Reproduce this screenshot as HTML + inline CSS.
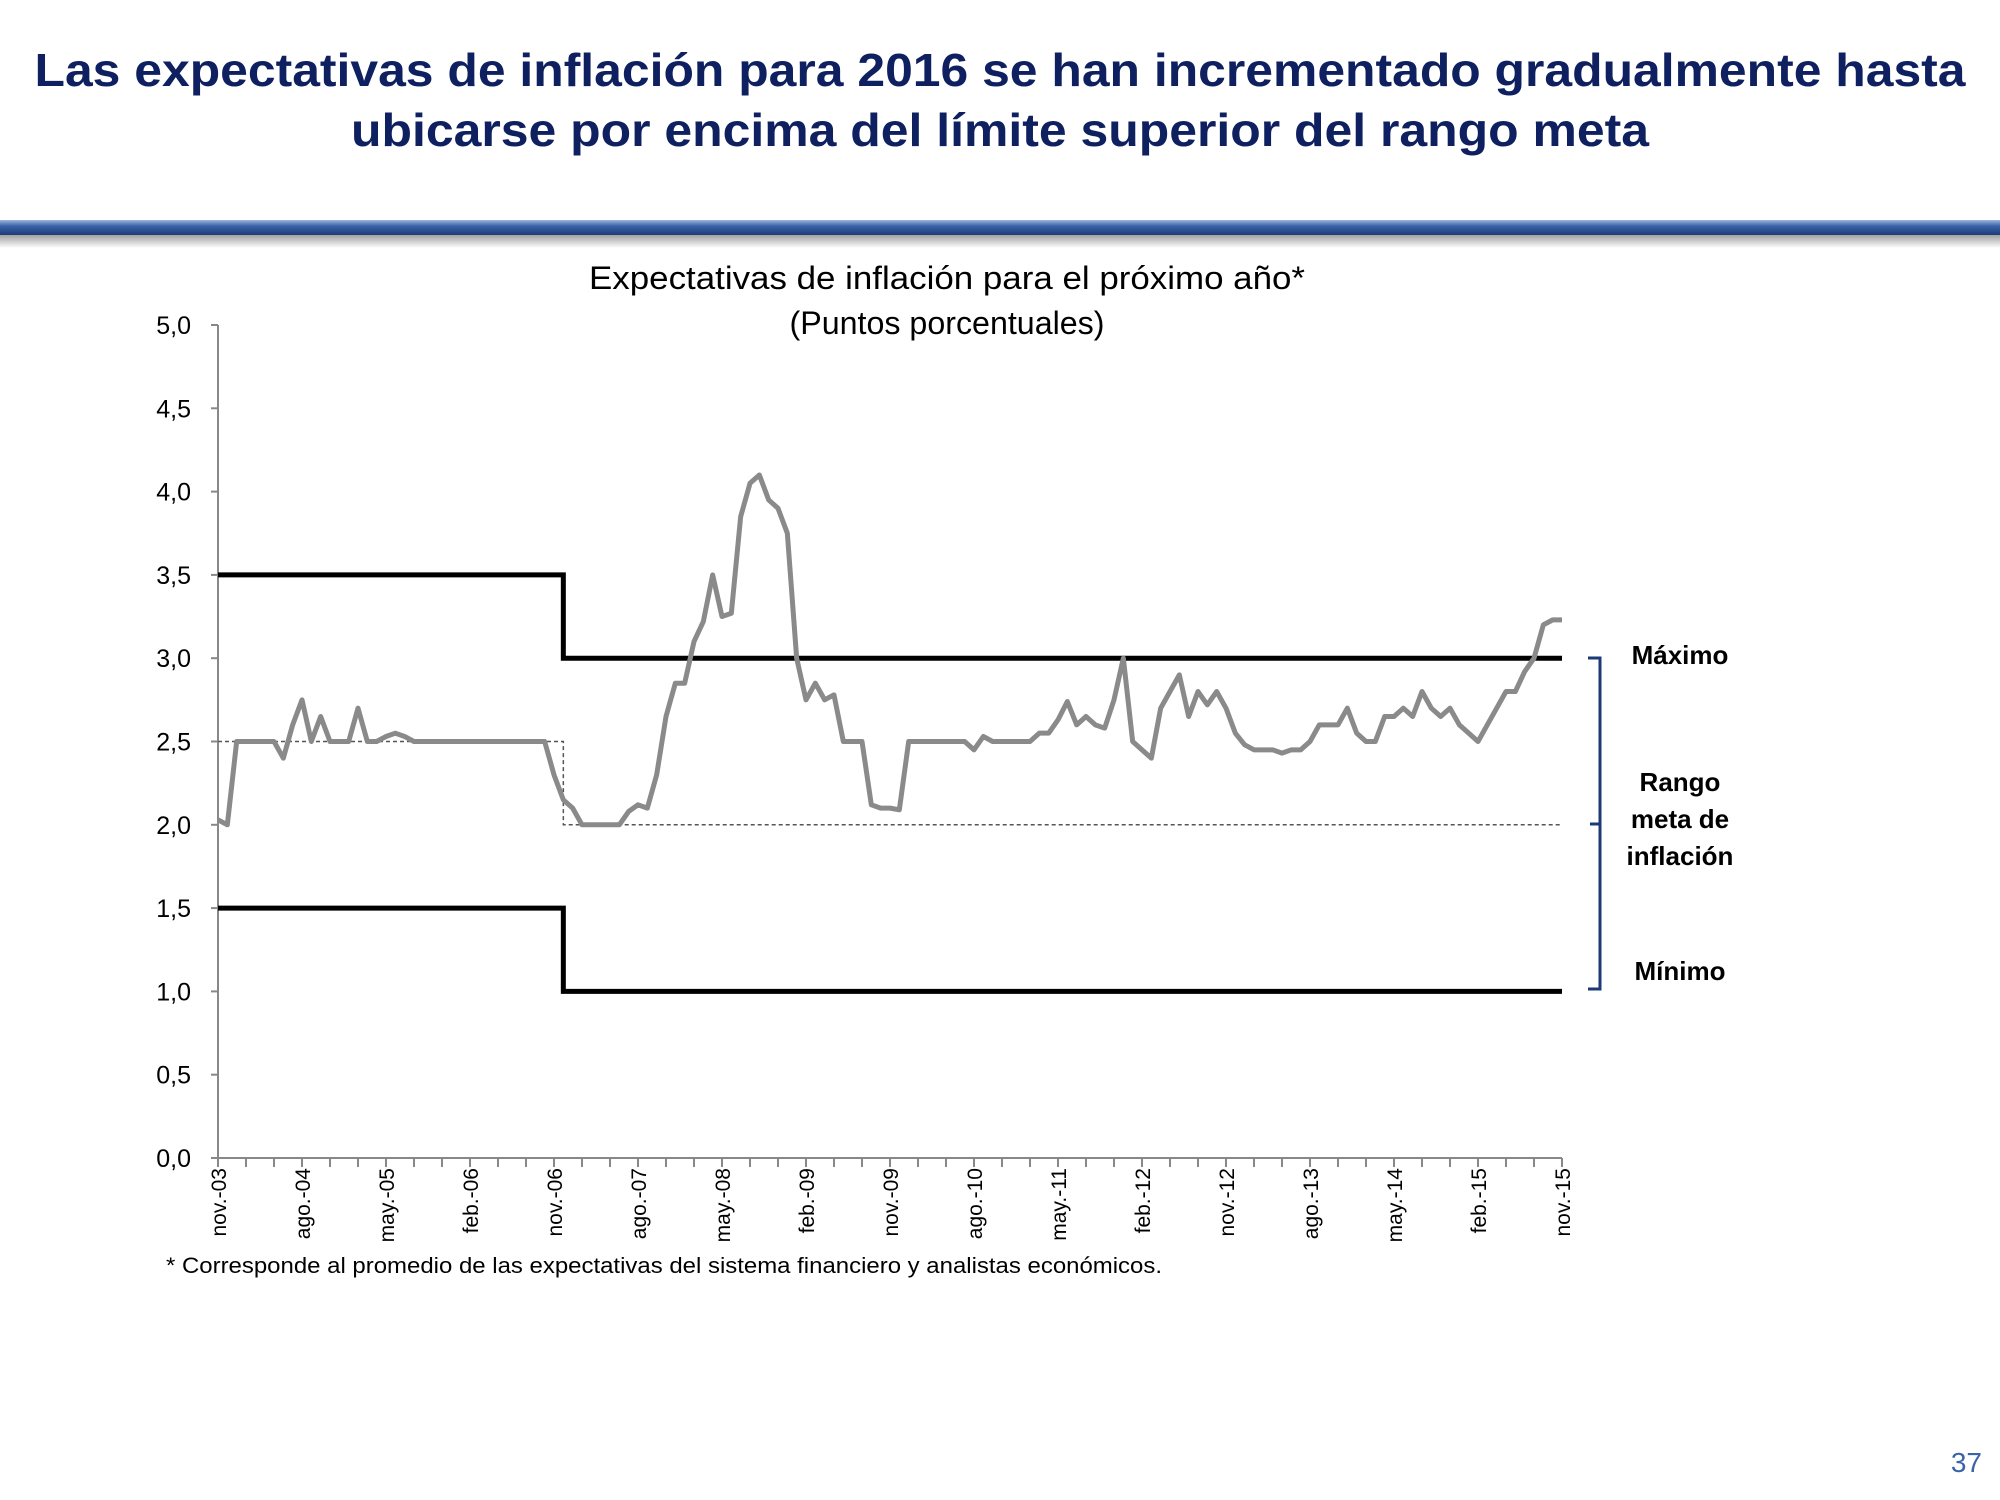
<!DOCTYPE html>
<html><head><meta charset="utf-8"><style>
body{margin:0;background:#fff}
svg{display:block;font-family:"Liberation Sans",sans-serif}
</style></head><body>
<svg width="2000" height="1500" viewBox="0 0 2000 1500">
<defs><linearGradient id="bar" x1="0" y1="0" x2="0" y2="1">
<stop offset="0" stop-color="#9fb6dc"/><stop offset="0.4" stop-color="#3a63a8"/><stop offset="1" stop-color="#1c3a78"/></linearGradient>
<linearGradient id="sh" x1="0" y1="0" x2="0" y2="1"><stop offset="0" stop-color="#999"/><stop offset="1" stop-color="#fff"/></linearGradient></defs>
<g fill="#0f2060" font-weight="bold" font-size="46" text-anchor="middle">
<text x="1000" y="86" textLength="1931" lengthAdjust="spacingAndGlyphs">Las expectativas de inflación para 2016 se han incrementado gradualmente hasta</text>
<text x="1000" y="146" textLength="1298" lengthAdjust="spacingAndGlyphs">ubicarse por encima del límite superior del rango meta</text>
</g>
<rect x="0" y="234" width="2000" height="14" fill="url(#sh)"/>
<rect x="0" y="220" width="2000" height="15" fill="url(#bar)"/>
<text x="947" y="289" font-size="32" text-anchor="middle" textLength="716" lengthAdjust="spacingAndGlyphs">Expectativas de inflación para el próximo año*</text>
<text x="947" y="334" font-size="32" text-anchor="middle" textLength="315" lengthAdjust="spacingAndGlyphs">(Puntos porcentuales)</text>
<g id="chart"></g>
<g font-size="26" font-weight="bold" text-anchor="middle">
<text x="1680" y="664">Máximo</text>
<text x="1680" y="791">Rango</text>
<text x="1680" y="828">meta de</text>
<text x="1680" y="865">inflación</text>
<text x="1680" y="980">Mínimo</text>
</g>
<path d="M1588 658 H1600 V989 H1588 M1600 824 H1590" fill="none" stroke="#1c3a78" stroke-width="3"/>
<text x="166" y="1273" font-size="22" textLength="996" lengthAdjust="spacingAndGlyphs">* Corresponde al promedio de las expectativas del sistema financiero y analistas económicos.</text>
<text x="1982" y="1472" font-size="28" fill="#3a63a8" text-anchor="end">37</text>
</svg>
<script>
const yTicks=["0,0","0,5","1,0","1,5","2,0","2,5","3,0","3,5","4,0","4,5","5,0"];
const yTickValues=[0,0.5,1,1.5,2,2.5,3,3.5,4,4.5,5];
const xLabels=["nov.-03","ago.-04","may.-05","feb.-06","nov.-06","ago.-07","may.-08","feb.-09","nov.-09","ago.-10","may.-11","feb.-12","nov.-12","ago.-13","may.-14","feb.-15","nov.-15"];
const expectations=[2.03,2.0,2.5,2.5,2.5,2.5,2.5,2.4,2.6,2.75,2.5,2.65,2.5,2.5,2.5,2.7,2.5,2.5,2.53,2.55,2.53,2.5,2.5,2.5,2.5,2.5,2.5,2.5,2.5,2.5,2.5,2.5,2.5,2.5,2.5,2.5,2.3,2.15,2.1,2.0,2.0,2.0,2.0,2.0,2.08,2.12,2.1,2.3,2.65,2.85,2.85,3.1,3.22,3.5,3.25,3.27,3.85,4.05,4.1,3.95,3.9,3.75,3.0,2.75,2.85,2.75,2.78,2.5,2.5,2.5,2.12,2.1,2.1,2.09,2.5,2.5,2.5,2.5,2.5,2.5,2.5,2.45,2.53,2.5,2.5,2.5,2.5,2.5,2.55,2.55,2.63,2.74,2.6,2.65,2.6,2.58,2.75,3.0,2.5,2.45,2.4,2.7,2.8,2.9,2.65,2.8,2.72,2.8,2.7,2.55,2.48,2.45,2.45,2.45,2.43,2.45,2.45,2.5,2.6,2.6,2.6,2.7,2.55,2.5,2.5,2.65,2.65,2.7,2.65,2.8,2.7,2.65,2.7,2.6,2.55,2.5,2.6,2.7,2.8,2.8,2.92,3.0,3.2,3.23,3.23];
const upperLimit=[[0,3.5],[37,3.5],[37,3.0],[144,3.0]];
const lowerLimit=[[0,1.5],[37,1.5],[37,1.0],[144,1.0]];
const midTarget=[[0,2.5],[37,2.5],[37,2.0],[144,2.0]];
const NS="http://www.w3.org/2000/svg";
const X0=218,X1=1562,Y0=1158,Y1=325,NM=144;
function xs(m){return X0+(X1-X0)*m/NM;}
function ys(v){return Y0-(Y0-Y1)*v/5;}
const g=document.getElementById('chart');
function el(t,a,p){const e=document.createElementNS(NS,t);for(const k in a)e.setAttribute(k,a[k]);(p||g).appendChild(e);return e;}
const ax=el('path',{d:`M${X0} ${Y1} V${Y0} H${X1}`,fill:'none',stroke:'#888','stroke-width':2});


yTickValues.forEach((v,i)=>{
 const t=el('line',{x1:X0-7,x2:X0,y1:ys(v),y2:ys(v),stroke:'#888','stroke-width':2});
 
 
 const l=el('text',{x:191,y:ys(v)+9,'font-size':25,'text-anchor':'end'});
 
 
 l.textContent=yTicks[i];
});
for(let m=0;m<=NM;m+=3){
 const t=el('line',{x1:xs(m),x2:xs(m),y1:Y0,y2:Y0+9,stroke:'#888','stroke-width':2});
 
 
}
xLabels.forEach((s,i)=>{
 const x=xs(i*9);
 const l=el('text',{transform:`translate(${x+8},1168) rotate(-90)`,'font-size':21,'text-anchor':'end'});
 
 
 l.textContent=s;
});
function pts(a){return a.map(p=>xs(p[0])+','+ys(p[1])).join(' ');}
const md=el('polyline',{points:pts(midTarget),fill:'none',stroke:'#555','stroke-width':1.5,'stroke-dasharray':'4 3'});


const up=el('polyline',{points:pts(upperLimit),fill:'none',stroke:'#000','stroke-width':5});


const lo=el('polyline',{points:pts(lowerLimit),fill:'none',stroke:'#000','stroke-width':5});


const s=el('polyline',{points:expectations.map((v,i)=>xs(i)+','+ys(v)).join(' '),fill:'none',stroke:'#8a8a8a','stroke-width':5,'stroke-linejoin':'round'});


</script>
</body></html>
